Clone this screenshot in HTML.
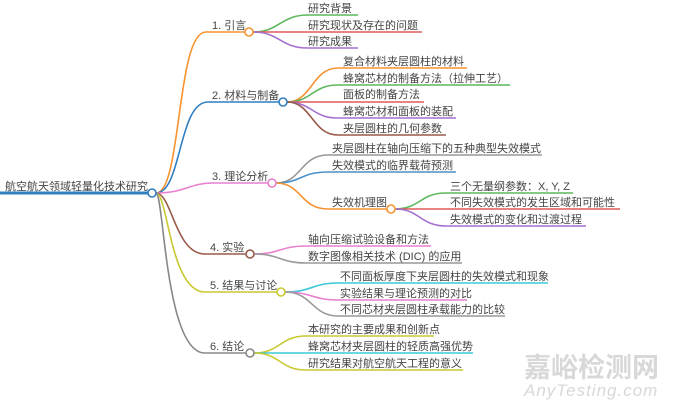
<!DOCTYPE html>
<html><head><meta charset="utf-8"><style>
html,body{margin:0;padding:0;background:#fff;}
svg{display:block}
text{font-family:"Liberation Sans","Noto Sans CJK SC",sans-serif;font-size:11px;fill:#444;}
</style></head><body>
<svg width="680" height="406" viewBox="0 0 680 406" xmlns="http://www.w3.org/2000/svg">
<g fill="none" stroke-width="1.6">
<!-- root -->
<line x1="0" y1="193" x2="148" y2="193" stroke="#2f7fc1" stroke-width="3"/>
<!-- branches -->
<path d="M156 193 C182 193,176 32,206 32 L246 32" stroke="#f7932f"/>
<path d="M156 193 C182 193,178 102,208 102 L279 102" stroke="#2f7fc1"/>
<path d="M156 193 C185 193,190 183,212 183 L268 183" stroke="#e87fcf"/>
<path d="M156 193 C172 193,175 254,205 254 L246 254" stroke="#9a5a4a"/>
<path d="M156 193 C168 193,170 292,205 292 L277 292" stroke="#c8c832"/>
<path d="M156 193 C164 193,165 353,205 353 L246 353" stroke="#888"/>
<!-- 1 children -->
<path d="M253 32 C280 32,280 15,308 15 L358 15" stroke="#5cb85c"/>
<path d="M253 32 L422 32" stroke="#e05a5a"/>
<path d="M253 32 C280 32,280 48,308 48 L358 48" stroke="#a56fd0"/>
<!-- 2 children -->
<path d="M287 102 C312 102,312 68,338 68 L467 68" stroke="#f7932f"/>
<path d="M287 102 C312 102,312 85,338 85 L510 85" stroke="#5cb85c"/>
<path d="M287 102 L424 102" stroke="#e05a5a"/>
<path d="M287 102 C312 102,312 118,338 118 L456 118" stroke="#a56fd0"/>
<path d="M287 102 C312 102,312 135,338 135 L446 135" stroke="#9a5a4a"/>
<!-- 3 children -->
<path d="M276 183 C302 183,300 155,328 155 L542 155" stroke="#999"/>
<path d="M276 183 C302 183,300 172,328 172 L456 172" stroke="#4a90c8"/>
<path d="M276 183 C302 183,300 209,328 209 L387 209" stroke="#f7932f"/>
<path d="M395 209 C420 209,420 193,446 193 L573 193" stroke="#5cb85c"/>
<path d="M395 209 L620 209" stroke="#e05a5a"/>
<path d="M395 209 C420 209,420 226,446 226 L586 226" stroke="#a56fd0"/>
<!-- 4 children -->
<path d="M254 254 C280 254,280 246,306 246 L431 246" stroke="#e87fcf"/>
<path d="M254 254 C280 254,280 263,306 263 L462 263" stroke="#999"/>
<!-- 5 children -->
<path d="M285 292 C312 292,312 283,338 283 L548 283" stroke="#3cc8d8"/>
<path d="M285 292 C312 292,312 300,338 300 L467 300" stroke="#e87fcf"/>
<path d="M285 292 C312 292,312 316,338 316 L505 316" stroke="#999"/>
<!-- 6 children -->
<path d="M254 353 C280 353,280 336,306 336 L434 336" stroke="#c8c832"/>
<path d="M254 353 L473 353" stroke="#3cc8d8"/>
<path d="M254 353 C280 353,280 370,306 370 L463 370" stroke="#c8c832"/>
</g>
<g fill="#fff" stroke-width="1.6">
<circle cx="152" cy="193" r="4" stroke="#2f7fc1"/>
<circle cx="249" cy="32" r="4" stroke="#f7932f"/>
<circle cx="283" cy="102" r="4" stroke="#2f7fc1"/>
<circle cx="272" cy="183" r="4" stroke="#e87fcf"/>
<circle cx="391" cy="209" r="4" stroke="#f7932f"/>
<circle cx="250" cy="254" r="4" stroke="#9a5a4a"/>
<circle cx="281" cy="292" r="4" stroke="#c8c832"/>
<circle cx="250" cy="353" r="4" stroke="#888"/>
</g>
<text x="5" y="190">航空航天领域轻量化技术研究</text>
<text x="212" y="29">1. 引言</text>
<text x="212" y="99">2. 材料与制备</text>
<text x="212" y="180">3. 理论分析</text>
<text x="210" y="251">4. 实验</text>
<text x="210" y="289">5. 结果与讨论</text>
<text x="210" y="350">6. 结论</text>
<text x="308" y="12">研究背景</text>
<text x="308" y="29">研究现状及存在的问题</text>
<text x="308" y="45">研究成果</text>
<text x="343" y="65">复合材料夹层圆柱的材料</text>
<text x="343" y="82">蜂窝芯材的制备方法（拉伸工艺）</text>
<text x="343" y="98">面板的制备方法</text>
<text x="343" y="115">蜂窝芯材和面板的装配</text>
<text x="343" y="132">夹层圆柱的几何参数</text>
<text x="332" y="152">夹层圆柱在轴向压缩下的五种典型失效模式</text>
<text x="332" y="169">失效模式的临界载荷预测</text>
<text x="332" y="206">失效机理图</text>
<text x="450" y="190">三个无量纲参数：X, Y, Z</text>
<text x="450" y="206">不同失效模式的发生区域和可能性</text>
<text x="450" y="223">失效模式的变化和过渡过程</text>
<text x="308" y="243">轴向压缩试验设备和方法</text>
<text x="308" y="260">数字图像相关技术 (DIC) 的应用</text>
<text x="340" y="280">不同面板厚度下夹层圆柱的失效模式和现象</text>
<text x="340" y="297">实验结果与理论预测的对比</text>
<text x="340" y="313">不同芯材夹层圆柱承载能力的比较</text>
<text x="308" y="333">本研究的主要成果和创新点</text>
<text x="308" y="350">蜂窝芯材夹层圆柱的轻质高强优势</text>
<text x="308" y="367">研究结果对航空航天工程的意义</text>
<text x="524" y="377" style="font-size:27px;fill:#d8d8d8;font-weight:bold">嘉峪检测网</text>
<text x="524" y="396" style="font-size:17px;fill:#d8d8d8;font-style:italic;letter-spacing:1px">AnyTesting.com</text>
</svg>
</body></html>
